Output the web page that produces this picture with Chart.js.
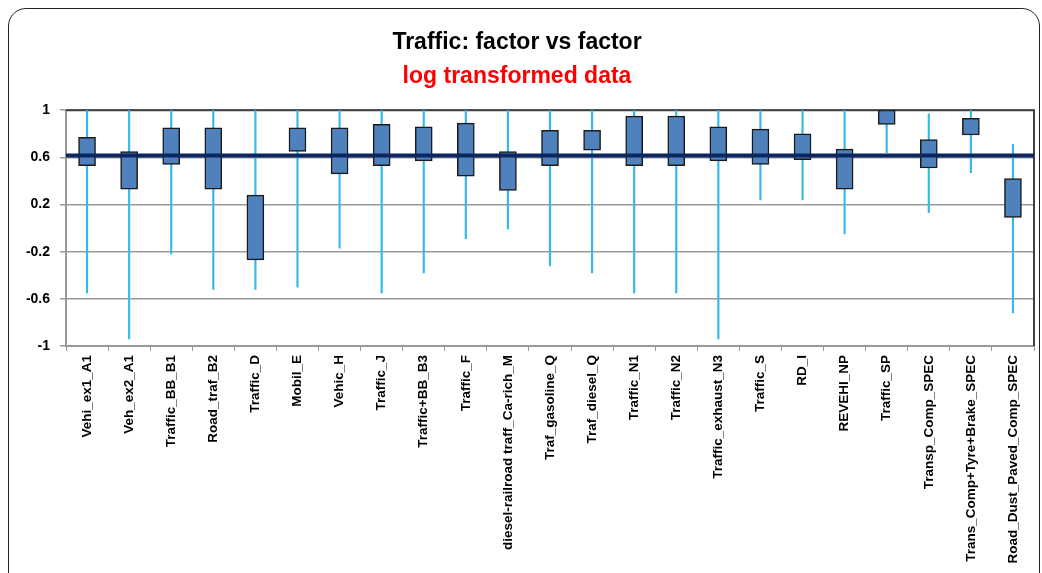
<!DOCTYPE html>
<html>
<head>
<meta charset="utf-8">
<script src="https://cdn.jsdelivr.net/npm/chart.js@4"></script>
<style>
  html, body { margin: 0; padding: 0; background: #fff; overflow: hidden; }
  #frame { position: absolute; left: 8px; top: 8px; width: 1030px; height: 600px;
           border: 1.5px solid #222; border-radius: 18px; }
  #chart { position: absolute; left: 0; top: 0; }
</style>
</head>
<body>
<div id="frame"></div>
<canvas id="chart" width="1042" height="573"></canvas>
<script>
const CATEGORIES = [
  'Vehi_ex1_A1', 'Veh_ex2_A1', 'Traffic_BB_B1', 'Road_traf_B2', 'Traffic_D', 'Mobil_E',
  'Vehic_H', 'Traffic_J', 'Traffic+BB_B3', 'Traffic_F', 'diesel-railroad traff_Ca-rich_M',
  'Traf_gasoline_Q', 'Traf_diesel_Q', 'Traffic_N1', 'Traffic_N2', 'Traffic_exhaust_N3',
  'Traffic_S', 'RD_I', 'REVEHI_NP', 'Traffic_SP', 'Transp_Comp_SPEC',
  'Trans_Comp+Tyre+Brake_SPEC', 'Road_Dust_Paved_Comp_SPEC'
];
const WHISKER_LOW  = [-0.55, -0.94, -0.22, -0.52, -0.52, -0.50, -0.17, -0.55, -0.38, -0.09, -0.01,
                      -0.32, -0.38, -0.55, -0.55, -0.94, 0.24, 0.24, -0.05, 0.64, 0.13, 0.47, -0.72];
const WHISKER_HIGH = [1, 1, 1, 1, 1, 1, 1, 1, 1, 1, 1,
                      1, 1, 1, 1, 1, 1, 1, 1, 1, 0.97, 1, 0.71];
const BOX_LOW  = [0.53, 0.33, 0.54, 0.33, -0.27, 0.65, 0.46, 0.53, 0.57, 0.44, 0.32,
                  0.53, 0.66, 0.53, 0.53, 0.57, 0.54, 0.58, 0.33, 0.88, 0.51, 0.79, 0.09];
const BOX_HIGH = [0.77, 0.65, 0.85, 0.85, 0.28, 0.85, 0.85, 0.88, 0.86, 0.89, 0.65,
                  0.83, 0.83, 0.95, 0.95, 0.86, 0.84, 0.80, 0.67, 1.0, 0.75, 0.93, 0.42];
const REF_LINE = 0.615;
const Y_TICKS = [-1, -0.6, -0.2, 0.2, 0.6, 1];

Chart.defaults.font.family = "'Liberation Sans', Arial, sans-serif";
Chart.defaults.color = '#000';

const refLine = {
  id: 'refLine',
  afterDatasetsDraw(chart) {
    const { ctx, chartArea: a, scales: { y } } = chart;
    const py = y.getPixelForValue(REF_LINE);
    ctx.save();
    ctx.strokeStyle = '#0c2660';
    ctx.lineWidth = 4;
    ctx.beginPath();
    ctx.moveTo(a.left, py);
    ctx.lineTo(a.right, py);
    ctx.stroke();
    ctx.restore();
  },
  beforeDatasetsDraw(chart) {
    const { ctx, chartArea: a } = chart;
    ctx.save();
    ctx.strokeStyle = '#404040';
    ctx.lineWidth = 2;
    ctx.beginPath();
    ctx.moveTo(a.left, a.top);
    ctx.lineTo(a.right, a.top);
    ctx.lineTo(a.right, a.bottom);
    ctx.stroke();
    ctx.restore();
  }
};

new Chart(document.getElementById('chart'), {
  type: 'bar',
  data: {
    labels: CATEGORIES,
    datasets: [
      {
        label: 'range',
        data: WHISKER_LOW.map((v, i) => [v, WHISKER_HIGH[i]]),
        backgroundColor: '#35b9ec',
        barThickness: 1.5,
        grouped: false,
        order: 2,
      },
      {
        label: 'box',
        data: BOX_LOW.map((v, i) => [v, BOX_HIGH[i]]),
        backgroundColor: '#4f81bd',
        borderColor: '#1a1a1a',
        borderWidth: 1.5,
        borderSkipped: false,
        barThickness: 17,
        grouped: false,
        order: 1,
      },
    ],
  },
  options: {
    responsive: false,
    animation: false,
    layout: { padding: { left: 0, right: 8, top: 29, bottom: 0 } },
    plugins: {
      legend: { display: false },
      tooltip: { enabled: false },
      title: {
        display: true, text: 'Traffic: factor vs factor', color: '#000',
        font: { size: 23, weight: 'bold' }, padding: { top: 0, bottom: 4 },
      },
      subtitle: {
        display: true, text: 'log transformed data', color: '#ff0000',
        font: { size: 23, weight: 'bold' }, padding: { top: 2, bottom: 20 },
      },
    },
    scales: {
      x: {
        afterFit: s => { s.height = 227; },
        grid: { offset: true, drawOnChartArea: false, tickLength: 5, color: '#999' },
        border: { color: '#999', width: 2 },
        ticks: { minRotation: 90, maxRotation: 90, autoSkip: false, padding: 4,
                 font: { size: 13.5, weight: 'bold' } },
      },
      y: {
        min: -1, max: 1,
        afterFit: s => { s.width = 66; },
        afterBuildTicks: s => { s.ticks = Y_TICKS.map(v => ({ value: v })); },
        grid: { color: '#999', lineWidth: 1.5, tickLength: 6 },
        border: { color: '#999', width: 2 },
        ticks: { padding: 10, font: { size: 14, weight: 'bold' },
                 callback: v => String(Number(v.toFixed(1))) },
      },
    },
  },
  plugins: [refLine],
});
</script>
</body>
</html>
